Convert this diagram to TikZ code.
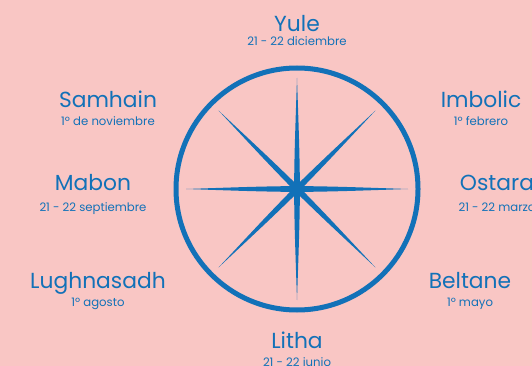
\documentclass[tikz,border=0pt]{standalone}
\usepackage{fontspec}
\setmainfont{Poppins}
\usetikzlibrary{positioning}
\definecolor{fondo}{RGB}{249,198,196}
\definecolor{azul}{RGB}{18,113,184}
\tikzset{
  fiesta/.style={text=azul, font=\fontsize{21.8}{24}\selectfont, inner sep=0pt, anchor=base},
  fecha/.style={text=azul, font=\fontsize{11.7}{13}\selectfont, inner sep=0pt, anchor=base},
  rayo/.style={fill=azul, draw=none},
}
\begin{document}
\begin{tikzpicture}[x=1pt,y=-1pt]
\useasboundingbox (0,0) rectangle (532,366);
\fill[fondo] (0,0) rectangle (532,366);
\clip (0,0) rectangle (532,366);
% Rueda del año
\coordinate (centro) at (297,189);
\draw[azul, line width=5pt] (centro) circle (121pt);
% Estrella de ocho puntas
\foreach \ang in {0,45,90,135} {
\fill[rayo, shift={(centro)}, rotate=\ang] (-111,0) .. controls (-40,2.4) .. (0,3)
  .. controls (40,2.4) .. (111,0) .. controls (40,-2.4) .. (0,-3)
  .. controls (-40,-2.4) .. cycle;
}
\fill[azul] (centro) circle (5pt);
% Fiestas: nombre y fecha
\foreach \i/\nombre/\dia/\x/\yn/\yf in {
  1/Yule/21 - 22 diciembre/297/32/46,
  2/Imbolic/1º febrero/481/108/126,
  3/Ostara/21 - 22 marzo/497/190/211,
  4/Beltane/1º mayo/470/288/306,
  5/Litha/21 - 22 junio/297/348/366,
  6/Lughnasadh/1º agosto/98/288/306,
  7/Mabon/21 - 22 septiembre/93/190/211,
  8/Samhain/1º de noviembre/108/108/126} {
\node[fiesta] (nom\i) at (\x,\yn) {\nombre};
\node[fecha] (dia\i) at (\x,\yf) {\dia};
}
\end{tikzpicture}
\end{document}
